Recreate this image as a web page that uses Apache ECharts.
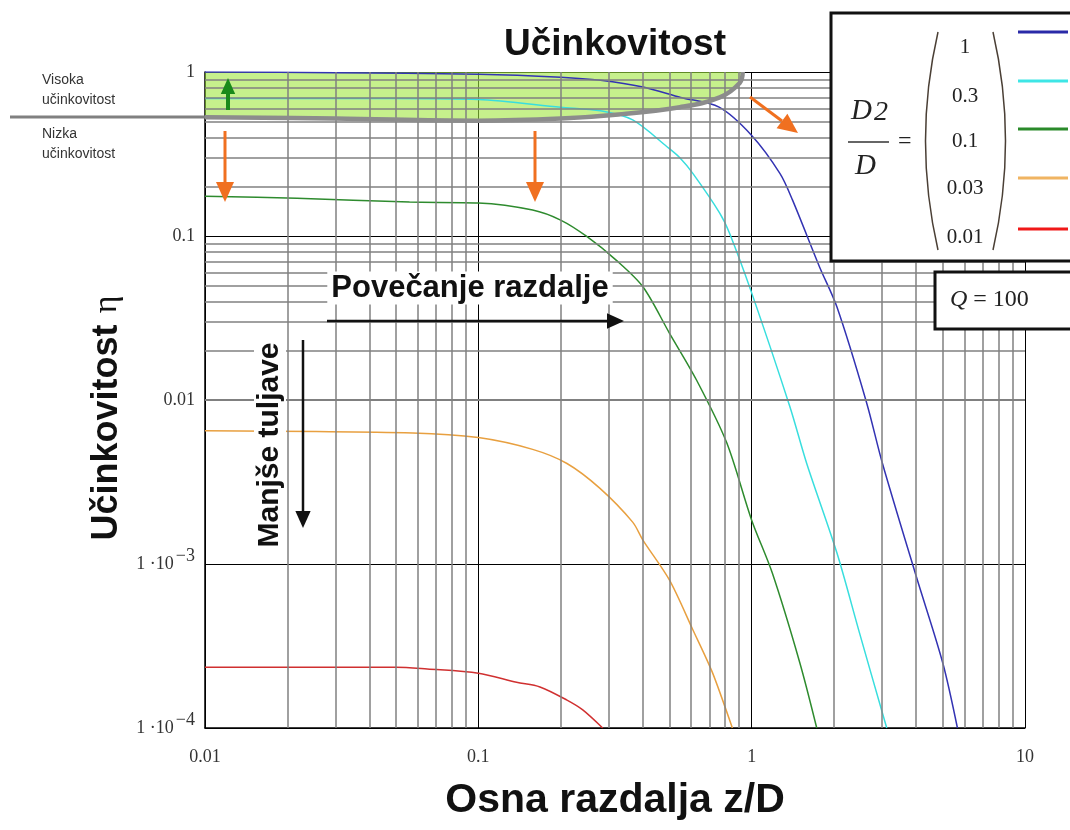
<!DOCTYPE html>
<html>
<head>
<meta charset="utf-8">
<title>Učinkovitost</title>
<script src="https://cdn.jsdelivr.net/npm/echarts@6.0.0/dist/echarts.min.js"></script>
<style>
  html, body { margin: 0; padding: 0; background: #fff; }
  #chart { width: 1070px; height: 830px; }
</style>
</head>
<body>
<div id="chart"></div>
<script>
  // krivulje: [z/D, eta]
  var blueData = [[0.01,1.0],[0.03,0.99],[0.1,0.97],[0.2,0.93],[0.28,0.89],[0.4,0.81],[0.55,0.70],[0.76,0.61],[1.0,0.41],[1.27,0.24],[1.41,0.166],[1.77,0.065],[2.05,0.037],[2.63,0.0097],[3.01,0.0041],[4.01,0.00083],[5.0,0.00025],[5.66,0.0001]];
  var cyanData = [[0.01,0.69],[0.05,0.69],[0.1,0.68],[0.2,0.61],[0.28,0.58],[0.367,0.51],[0.49,0.35],[0.546,0.30],[0.61,0.24],[0.764,0.138],[0.83,0.104],[1.0,0.045],[1.38,0.0091],[1.59,0.0041],[2.05,0.00117],[2.48,0.00038],[3.12,0.0001]];
  var greenData = [[0.01,0.175],[0.0217,0.17],[0.056,0.161],[0.1,0.159],[0.158,0.144],[0.2,0.125],[0.25,0.099],[0.32,0.071],[0.4,0.049],[0.5,0.0256],[0.629,0.0132],[0.81,0.0055],[1.0,0.00185],[1.19,0.00088],[1.5,0.00025],[1.73,0.0001]];
  var orangeData = [[0.01,0.0065],[0.0576,0.0063],[0.1,0.0059],[0.158,0.005],[0.211,0.0041],[0.278,0.0029],[0.367,0.0018],[0.4,0.0014],[0.5,0.0008],[0.608,0.0004],[0.72,0.000216],[0.85,0.0001]];
  var redData = [[0.01,0.000235],[0.05,0.000235],[0.065,0.000229],[0.1,0.000216],[0.138,0.00019],[0.168,0.000178],[0.211,0.000148],[0.241,0.000129],[0.285,0.0001]];
  // meja visoke ucinkovitosti
  var boundaryData = [[0.01,0.53],[0.03,0.52],[0.1,0.505],[0.2,0.52],[0.31,0.547],[0.546,0.61],[0.764,0.70],[0.904,0.857],[0.927,1.0]];

  var ratioLabels = ['1','0.3','0.1','0.03','0.01'];
  var curveColors = ['#3333b3','#38dede','#2e8b2e','#e8a040','#d03030'];
  var legendColors = ['#2a2aa8','#3ee6e6','#2a8a2a','#f0b462','#f01818'];

  var xTickLabels = ['0.01','0.1','1','10'];
  var yTickLabels = ['{m|1 ·10}{e|−4}','{m|1 ·10}{e|−3}','{m|0.01}','{m|0.1}','{m|1}'];

  var decadesX = [0.01,0.1,1];
  var decadesY = [0.0001,0.001,0.01,0.1];
  var minorSteps = [2,3,4,5,6,7,8,9];

  var minorLines = [];
  decadesX.forEach(function (d) {
    minorSteps.forEach(function (s) { minorLines.push({ xAxis: d * s }); });
  });
  decadesY.forEach(function (d) {
    minorSteps.forEach(function (s) { minorLines.push({ yAxis: d * s }); });
  });

  var serif = '"Liberation Serif", "DejaVu Serif", serif';
  var sans = '"Liberation Sans", Arial, sans-serif';

  // puscica: crta + trikotna konica (z na vsakem otroku, ker ga skupina ne prenese)
  function arrow(x1, y1, x2, y2, color, w, head) {
    var ang = Math.atan2(y2 - y1, x2 - x1);
    var bx = x2 - head * Math.cos(ang), by = y2 - head * Math.sin(ang);
    var hw = head * 0.45;
    return {
      type: 'group',
      children: [
        { type: 'line', z: 60, shape: { x1: x1, y1: y1, x2: bx, y2: by }, style: { stroke: color, lineWidth: w } },
        { type: 'polygon', z: 60, shape: { points: [
          [x2, y2],
          [bx + hw * Math.sin(ang), by - hw * Math.cos(ang)],
          [bx - hw * Math.sin(ang), by + hw * Math.cos(ang)]
        ] }, style: { fill: color } }
      ]
    };
  }

  function lineSeries(name, data, color) {
    return {
      name: name, type: 'line', data: data, showSymbol: false, symbol: 'none',
      smooth: 0.3, z: 4, silent: true,
      lineStyle: { color: color, width: 1.5 }
    };
  }

  var graphics = [
    { type: 'text', z: 50, x: 615, y: 45, style: { text: 'Učinkovitost', font: 'bold 37px ' + sans, fill: '#111', align: 'center', verticalAlign: 'middle' } },
    { type: 'text', x: 42, y: 70, z: 50, style: { text: 'Visoka\nučinkovitost', font: '14px ' + sans, fill: '#333', lineHeight: 20 } },
    { type: 'text', x: 42, y: 124, z: 50, style: { text: 'Nizka\nučinkovitost', font: '14px ' + sans, fill: '#333', lineHeight: 20 } },
    { type: 'line', z: 50, shape: { x1: 10, y1: 117, x2: 205, y2: 117 }, style: { stroke: '#808080', lineWidth: 3 } },
    arrow(228, 110, 228, 78, '#1a8a1a', 4, 16),
    arrow(225, 131, 225, 202, '#f07020', 3, 20),
    arrow(535, 131, 535, 202, '#f07020', 3, 20),
    arrow(750, 97, 798, 133, '#f07020', 3, 20),
    { type: 'text', x: 470, y: 288, z: 55, style: { text: 'Povečanje razdalje', font: 'bold 31px ' + sans, fill: '#111', align: 'center', verticalAlign: 'middle', backgroundColor: '#fff', padding: [1, 4] } },
    arrow(327, 321, 624, 321, '#111', 2.5, 17),
    { type: 'text', x: 270, y: 445, rotation: Math.PI / 2, z: 55, style: { text: 'Manjše tuljave', font: 'bold 30px ' + sans, fill: '#111', align: 'center', verticalAlign: 'middle', backgroundColor: '#fff', padding: [1, 4] } },
    arrow(303, 340, 303, 528, '#111', 2.5, 17),
    // legenda
    { type: 'rect', z: 70, shape: { x: 831, y: 13, width: 260, height: 248 }, style: { fill: '#fff', stroke: '#111', lineWidth: 3 } },
    arrow(848, 84, 893, 84, '#333', 1.5, 10),
    { type: 'text', z: 75, x: 851, y: 97, style: { text: 'D', font: 'italic 29px ' + serif, fill: '#222' } },
    { type: 'text', z: 75, x: 874, y: 99, style: { text: '2', font: 'italic 28px ' + serif, fill: '#222' } },
    { type: 'line', z: 75, shape: { x1: 848, y1: 142, x2: 889, y2: 142 }, style: { stroke: '#333', lineWidth: 1.5 } },
    { type: 'text', z: 75, x: 855, y: 152, style: { text: 'D', font: 'italic 29px ' + serif, fill: '#222' } },
    { type: 'text', z: 75, x: 898, y: 130, style: { text: '=', font: '24px ' + serif, fill: '#222' } },
    { type: 'bezierCurve', z: 75, shape: { x1: 938, y1: 32, x2: 938, y2: 250, cpx1: 913, cpy1: 141 }, style: { stroke: '#4a3f35', lineWidth: 1.5, fill: null } },
    { type: 'bezierCurve', z: 75, shape: { x1: 993, y1: 32, x2: 993, y2: 250, cpx1: 1018, cpy1: 141 }, style: { stroke: '#4a3f35', lineWidth: 1.5, fill: null } },
    // Q okvir
    { type: 'rect', z: 70, shape: { x: 935, y: 272, width: 150, height: 57 }, style: { fill: '#fff', stroke: '#111', lineWidth: 3 } },
    { type: 'text', z: 75, x: 950, y: 300, style: { text: '{i|Q} = 100', verticalAlign: 'middle', font: '24px ' + serif, fill: '#222', rich: { i: { fontStyle: 'italic', fontFamily: serif, fontSize: 24, fill: '#222' } } } }
  ];
  // vrednosti D2/D in barvne crte
  var legendY = [47, 96, 141, 188, 237];
  var legendLineY = [32, 81, 129, 178, 229];
  ratioLabels.forEach(function (t, i) {
    graphics.push({ type: 'text', z: 75, x: 965, y: legendY[i], style: { text: t, font: '21px ' + serif, fill: '#222', align: 'center', verticalAlign: 'middle' } });
    graphics.push({ type: 'line', z: 75, shape: { x1: 1018, y1: legendLineY[i], x2: 1068, y2: legendLineY[i] }, style: { stroke: legendColors[i], lineWidth: 3 } });
  });

  var myChart = echarts.init(document.getElementById('chart'));
  var option = {
    animation: false,
    backgroundColor: '#fff',
    grid: { left: 205, right: 45, top: 72, bottom: 102 },
    xAxis: {
      type: 'log', logBase: 10, min: 0.01, max: 10,
      name: 'Osna razdalja z/D', nameLocation: 'middle', nameGap: 52,
      nameTextStyle: { fontFamily: sans, fontWeight: 'bold', fontSize: 41, color: '#111' },
      axisLine: { show: true, lineStyle: { color: '#000', width: 1.5 } },
      axisTick: { show: false },
      splitLine: { show: true, lineStyle: { color: '#000', width: 1 } },
      axisLabel: {
        margin: 20, fontFamily: serif, fontSize: 18, color: '#333',
        formatter: function (v) { return xTickLabels[Math.round(Math.log10(v)) + 2]; }
      }
    },
    yAxis: {
      type: 'log', logBase: 10, min: 0.0001, max: 1,
      name: '{b|Učinkovitost} {e|η}{p|}', nameLocation: 'middle', nameGap: 76,
      nameTextStyle: {
        rich: {
          b: { fontFamily: sans, fontWeight: 'bold', fontSize: 36, color: '#111' },
          e: { fontFamily: serif, fontSize: 34, color: '#111', padding: [0, 0, 0, 8] },
          p: { width: 36 }
        }
      },
      axisLine: { show: true, lineStyle: { color: '#000', width: 1.5 } },
      axisTick: { show: false },
      splitLine: { show: true, lineStyle: { color: '#000', width: 1 } },
      axisLabel: {
        margin: 10,
        formatter: function (v) { return yTickLabels[Math.round(Math.log10(v)) + 4]; },
        rich: {
          m: { fontFamily: serif, fontSize: 18, color: '#333' },
          e: { fontFamily: serif, fontSize: 18, color: '#333', padding: [0, 0, 16, 2] }
        }
      }
    },
    graphic: graphics,
    series: [
      {
        // pomozne mrezne crte
        name: 'grid', type: 'line', data: [], silent: true, z: 1,
        markLine: {
          silent: true, symbol: ['none', 'none'], animation: false,
          label: { show: false },
          lineStyle: { color: '#808080', width: 1.5, type: 'solid' },
          emphasis: { disabled: true },
          data: minorLines
        }
      },
      {
        // obmocje visoke ucinkovitosti
        name: 'fill', type: 'custom', z: 2, silent: true,
        data: [0],
        renderItem: function (params, api) {
          var pts = boundaryData.map(function (p) { return api.coord(p); });
          pts.push(api.coord([0.01, 1]));
          return { type: 'polygon', shape: { points: pts }, style: { fill: 'rgba(160,230,63,0.6)' } };
        }
      },
      lineSeries('1', blueData, curveColors[0]),
      lineSeries('0.3', cyanData, curveColors[1]),
      lineSeries('0.1', greenData, curveColors[2]),
      lineSeries('0.03', orangeData, curveColors[3]),
      lineSeries('0.01', redData, curveColors[4]),
      {
        name: 'meja', type: 'line', data: boundaryData, showSymbol: false, symbol: 'none',
        smooth: 0.4, z: 5, silent: true,
        lineStyle: { color: '#8c8c8c', width: 4.5 }
      }
    ]
  };
  myChart.setOption(option);
</script>
</body>
</html>
